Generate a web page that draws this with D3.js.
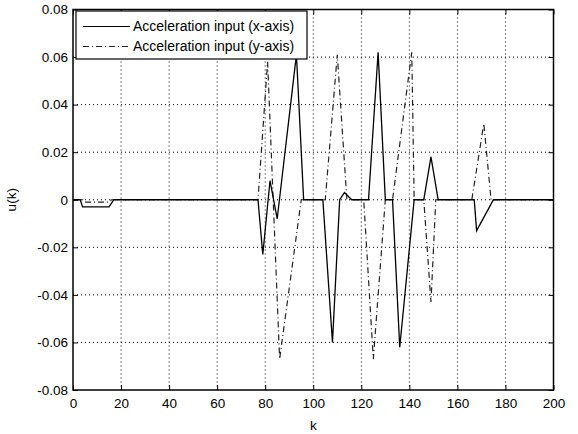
<!DOCTYPE html>
<html lang="en">
<head>
<meta charset="UTF-8">
<title>u(k)</title>
<script src="https://d3js.org/d3.v7.min.js"></script>
<style>
  * { margin: 0; padding: 0; }
  body { background: #fff; width: 578px; height: 434px; overflow: hidden; }
  svg { display: block; }
  text { font-family: Arial, 'Liberation Sans', sans-serif; fill: #000; }
</style>
</head>
<body>
<svg id="chart" width="578" height="434"></svg>
<script>
// acceleration input, x-axis (solid)
const kX = [0, 3, 4, 15, 17, 77, 79, 82, 85, 93, 96, 104, 108, 111, 113, 116, 123, 127, 130, 133, 136, 142, 146, 149, 152, 167, 168, 175, 200];
const uX = [0, 0, -0.003, -0.003, 0, 0, -0.023, 0.008, -0.008, 0.061, 0, 0, -0.06, 0, 0.003, 0, 0, 0.062, 0, 0, -0.062, 0, 0, 0.018, 0, 0, -0.013, 0, 0];

// acceleration input, y-axis (dash-dot)
const kY = [0, 4, 5, 15, 16, 77, 81, 86, 95, 105, 110, 114, 121, 125, 130, 133, 141, 142, 146, 149, 151, 166, 171, 174, 200];
const uY = [0, 0, -0.001, -0.001, 0, 0, 0.058, -0.067, 0, 0, 0.061, 0, 0, -0.067, 0, 0, 0.062, 0, 0, -0.043, 0, 0, 0.032, 0, 0];

const xTicks = [0, 20, 40, 60, 80, 100, 120, 140, 160, 180, 200];
const yTicks = [-0.08, -0.06, -0.04, -0.02, 0, 0.02, 0.04, 0.06, 0.08];
const legendLabels = ["Acceleration input (x-axis)", "Acceleration input (y-axis)"];

const margin = {top: 9.5, right: 24.5, bottom: 44, left: 73};
const W = 578, H = 434;
const w = W - margin.left - margin.right;
const h = H - margin.top - margin.bottom;

const svg = d3.select("#chart");
const g = svg.append("g").attr("transform", `translate(${margin.left},${margin.top})`);

const x = d3.scaleLinear().domain([0, 200]).range([0, w]);
const y = d3.scaleLinear().domain([-0.08, 0.08]).range([h, 0]);

// grid
g.append("g").selectAll("line")
  .data(xTicks.slice(1, -1)).join("line")
  .attr("x1", d => x(d)).attr("x2", d => x(d))
  .attr("y1", 0).attr("y2", h)
  .attr("stroke", "#000").attr("stroke-width", 1)
  .attr("stroke-dasharray", "1,3");
g.append("g").selectAll("line")
  .data(yTicks.slice(1, -1)).join("line")
  .attr("y1", d => y(d)).attr("y2", d => y(d))
  .attr("x1", 0).attr("x2", w)
  .attr("stroke", "#000").attr("stroke-width", 1)
  .attr("stroke-dasharray", "1,3");

// axes, ticks pointing inward
const fmtY = d => d === 0 ? "0" : d.toFixed(2);
const styleAxis = sel => {
  sel.select(".domain").remove();
  sel.selectAll("line").attr("stroke", "#000");
  sel.selectAll("text").attr("font-size", "13.5px").attr("fill", "#000");
};
g.append("g").attr("transform", `translate(0,${h})`)
  .call(d3.axisBottom(x).tickValues(xTicks).tickSizeInner(-5).tickSizeOuter(0).tickPadding(8))
  .call(styleAxis);
g.append("g")
  .call(d3.axisLeft(y).tickValues(yTicks).tickFormat(fmtY).tickSizeInner(-5).tickSizeOuter(0).tickPadding(5))
  .call(styleAxis);
g.append("g")
  .call(d3.axisTop(x).tickValues(xTicks).tickSizeInner(-5).tickSizeOuter(0).tickFormat(""))
  .call(styleAxis);
g.append("g").attr("transform", `translate(${w},0)`)
  .call(d3.axisRight(y).tickValues(yTicks).tickSizeInner(-5).tickSizeOuter(0).tickFormat(""))
  .call(styleAxis);

// series
const line = d3.line().x(d => x(d[0])).y(d => y(d[1]));
const ptsX = kX.map((k, i) => [k, uX[i]]);
const ptsY = kY.map((k, i) => [k, uY[i]]);

g.append("path").datum(ptsY)
  .attr("d", line).attr("fill", "none")
  .attr("stroke", "#222").attr("stroke-width", 1.2)
  .attr("stroke-dasharray", "6,3,1,3");
g.append("path").datum(ptsX)
  .attr("d", line).attr("fill", "none")
  .attr("stroke", "#000").attr("stroke-width", 1.3);

// frame
g.append("rect").attr("width", w).attr("height", h)
  .attr("fill", "none").attr("stroke", "#000").attr("stroke-width", 1.5);

// axis labels
svg.append("text")
  .attr("x", margin.left + x(100)).attr("y", 430)
  .attr("text-anchor", "middle").attr("font-size", "13.5px")
  .text("k");
svg.append("text")
  .attr("transform", `translate(16,${margin.top + y(0)}) rotate(-90)`)
  .attr("text-anchor", "middle").attr("font-size", "13.5px")
  .text("u(k)");

// legend
const leg = svg.append("g").attr("transform", "translate(76,11)");
leg.append("rect").attr("width", 231).attr("height", 48)
  .attr("fill", "#fff").attr("stroke", "#000").attr("stroke-width", 1.2);
const styles = [
  {stroke: "#000", dash: null},
  {stroke: "#222", dash: "6,3,1,3"}
];
legendLabels.forEach((lab, i) => {
  const yy = 15.5 + i * 20;
  leg.append("line")
    .attr("x1", 7).attr("x2", 54).attr("y1", yy).attr("y2", yy)
    .attr("stroke", styles[i].stroke).attr("stroke-width", 1.2)
    .attr("stroke-dasharray", styles[i].dash);
  leg.append("text")
    .attr("x", 57).attr("y", yy).attr("dy", "0.35em")
    .attr("font-size", "14px")
    .text(lab);
});
</script>
</body>
</html>
